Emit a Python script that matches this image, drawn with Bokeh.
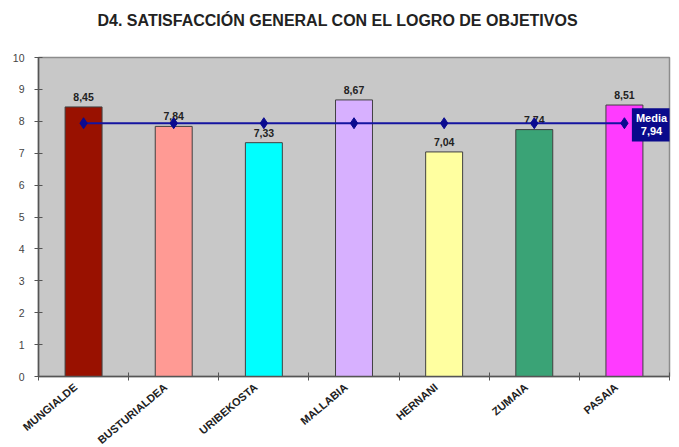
import math
from bokeh.plotting import figure
from bokeh.models import Range1d, FixedTicker, Label, ColumnDataSource
from bokeh.core.properties import value
from bokeh.embed import file_html
from bokeh.resources import INLINE

categories = ["MUNGIALDE", "BUSTURIALDEA", "URIBEKOSTA", "MALLABIA", "HERNANI", "ZUMAIA", "PASAIA"]
values = [8.45, 7.84, 7.33, 8.67, 7.04, 7.74, 8.51]
colors = ["#991100", "#FF9A94", "#00FFFF", "#D7B0FF", "#FFFFA0", "#3AA376", "#FF3BFF"]
media = 7.94
y_ticks = list(range(0, 11))
title_text = "D4. SATISFACCIÓN GENERAL CON EL LOGRO DE OBJETIVOS"

FONT = "Liberation Sans"

centers = [i + 0.5 for i in range(len(categories))]
bounds = list(range(len(categories) + 1))
label_pos = [c - 0.09 for c in centers]

p = figure(frame_width=631, frame_height=319, output_backend="svg", toolbar_location=None,
           x_range=Range1d(0, len(categories)), y_range=Range1d(0, 10),
           min_border_left=38, min_border_right=4, min_border_top=57, min_border_bottom=50)
p.background_fill_color = "#C8C8C8"
p.border_fill_color = "white"
p.outline_line_color = "#8C8C8C"
p.outline_line_width = 1.5
p.xgrid.visible = False
p.ygrid.visible = False

# second (blank) line only reserves space between the title and the frame
p.title.text = title_text + "\n\u00a0"
p.title.align = "left"
p.title.offset = 59
p.title.vertical_align = "top"
p.title.standoff = 19
p.title.text_font = FONT
p.title.text_font_style = "bold"
p.title.text_font_size = "16px"
p.title.text_color = "#222222"

src = ColumnDataSource(dict(x=centers, top=values, color=colors,
                            lab=[f"{v:.2f}".replace(".", ",") for v in values]))
p.vbar(x="x", top="top", width=0.41, fill_color="color", line_color="#404040", line_width=1, source=src)
p.text(x="x", y="top", text="lab", source=src, text_align="center", text_baseline="bottom",
       y_offset=-6, text_font=value(FONT), text_font_style="bold", text_font_size="10.5px",
       text_color="#222222")

# media line
p.line(x=centers, y=[media] * len(centers), line_color="#1414A0", line_width=2)
p.scatter(x=centers, y=[media] * len(centers), marker="diamond", size=11,
          fill_color="#0A0A90", line_color="#0A0A90")

mlab = Label(x=6.8, y=media - 0.05, text="Media\n" + f"{media:.2f}".replace(".", ","),
             text_align="center", text_baseline="middle", text_color="white",
             text_font=FONT, text_font_style="bold", text_font_size="11px",
             background_fill_color="#0A0A8C", padding=4, text_line_height=1.1)
p.add_layout(mlab)

# axes
p.yaxis.ticker = FixedTicker(ticks=y_ticks)
p.yaxis.minor_tick_line_color = None
p.yaxis.major_tick_in = 4
p.yaxis.major_tick_out = 4
p.yaxis.axis_line_color = "#555555"
p.yaxis.axis_line_width = 1.5
p.yaxis.major_tick_line_color = "#555555"
p.yaxis.major_label_text_font = FONT
p.yaxis.major_label_text_font_size = "10.5px"
p.yaxis.major_label_text_color = "#444444"
p.yaxis.major_label_standoff = 10

p.xaxis.ticker = FixedTicker(ticks=label_pos, minor_ticks=bounds)
p.xaxis.major_label_overrides = {c: n for c, n in zip(label_pos, categories)}
p.xaxis.major_tick_line_color = None
p.xaxis.major_tick_out = 4
p.xaxis.major_tick_in = 0
p.xaxis.minor_tick_line_color = "#555555"
p.xaxis.minor_tick_in = 4
p.xaxis.minor_tick_out = 4
p.xaxis.axis_line_color = "#555555"
p.xaxis.axis_line_width = 1.5
p.xaxis.major_label_orientation = 0.7
p.xaxis.major_label_text_font = FONT
p.xaxis.major_label_text_font_style = "bold"
p.xaxis.major_label_text_font_size = "11px"
p.xaxis.major_label_text_color = "#222222"
p.xaxis.major_label_standoff = 5

open("out.html", "w").write(file_html(p, INLINE))
